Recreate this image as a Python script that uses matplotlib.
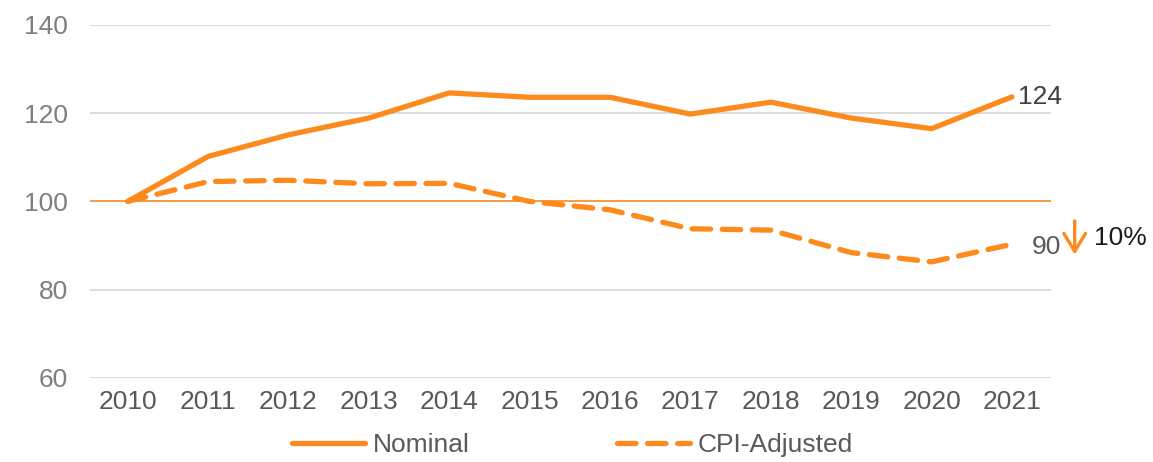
import numpy as np
import matplotlib
matplotlib.use("Agg")
import matplotlib.pyplot as plt

plt.rcParams["font.family"] = ["Liberation Sans", "DejaVu Sans"]

years = ["2010", "2011", "2012", "2013", "2014", "2015", "2016",
         "2017", "2018", "2019", "2020", "2021"]
nominal = [100, 110.2, 115.1, 118.9, 124.6, 123.6, 123.6, 119.8, 122.5, 118.9, 116.5, 123.7]
cpi_adjusted = [100, 104.5, 104.8, 104.0, 104.1, 100.0, 98.1, 93.8, 93.5, 88.4, 86.3, 90.3]
end_labels = ["124", "90"]
drop_label = "10%"

ORANGE = "#FD8A1D"
FS = 19

fig = plt.figure(figsize=(11.53, 4.62), dpi=100)
ax = fig.add_axes([0.078, 0.182, 0.8335, 0.764])

x = np.arange(len(years))
ax.axhline(100, color=ORANGE, lw=1.1, zorder=2)
ax.plot(x, nominal, color=ORANGE, lw=3.8, solid_capstyle="round",
        solid_joinstyle="round", label="Nominal", zorder=3)
ax.plot(x, cpi_adjusted, color=ORANGE, lw=3.8, dashes=(3.5, 2.2),
        dash_capstyle="round", label="CPI-Adjusted", zorder=3)

ax.set_ylim(60, 140)
ax.set_yticks([60, 80, 100, 120, 140])
ax.set_xlim(-0.47, len(years) - 1 + 0.485)
ax.set_xticks(x)
ax.set_xticklabels(years)
ax.grid(axis="y", color="#d9d9d9", lw=1.3)
ax.set_axisbelow(True)
for s in ax.spines.values():
    s.set_visible(False)
ax.tick_params(length=0)
ax.tick_params(axis="y", labelsize=FS, labelcolor="#7f7f7f", pad=16)
ax.tick_params(axis="x", labelsize=FS, labelcolor="#595959", pad=9)

# end-of-line annotations
ax.annotate(end_labels[0], (x[-1], nominal[-1]), xytext=(4, 0),
            textcoords="offset points", va="center", ha="left",
            fontsize=FS, color="#404040")
ax.annotate(end_labels[1], (x[-1], cpi_adjusted[-1]), xytext=(14, -2),
            textcoords="offset points", va="center", ha="left",
            fontsize=FS, color="#595959")
ax.annotate("", xy=(x[-1] + 0.78, 87.3), xytext=(x[-1] + 0.78, 96.2),
            arrowprops=dict(arrowstyle="->,head_length=0.5,head_width=0.3",
                            color=ORANGE, lw=2.4, mutation_scale=26),
            annotation_clip=False)
ax.text(x[-1] + 1.02, 91.8, drop_label, va="center", ha="left",
        fontsize=FS, color="#1a1a1a", clip_on=False)

leg = ax.legend(loc="upper center", bbox_to_anchor=(0.502, -0.09), ncol=2,
                frameon=False, fontsize=FS, handlelength=2.75,
                handletextpad=0.3, columnspacing=5.6)
for t in leg.get_texts():
    t.set_color("#595959")

fig.savefig("out.png", dpi=100)
